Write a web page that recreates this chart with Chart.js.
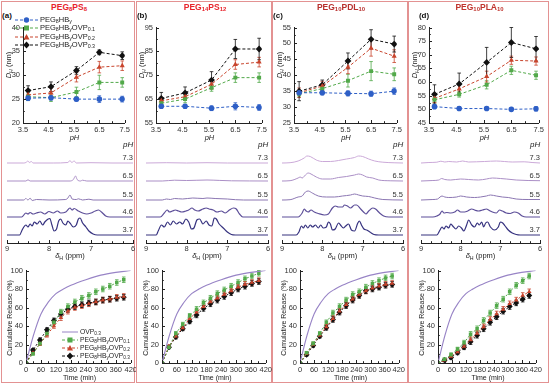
<!DOCTYPE html>
<html>
<head>
<meta charset="utf-8">
<script src="https://cdn.jsdelivr.net/npm/chart.js@4"></script>
<style>
body { margin: 0; background: #fff; }
#fig { position: relative; width: 550px; height: 384px; overflow: hidden; font-family: 'Liberation Sans', Arial, sans-serif; color: #222; }
.box { position: absolute; top: 1px; height: 382px; border: 1px solid #e39292; box-sizing: border-box; }
.t { position: absolute; white-space: nowrap; line-height: 1; transform: translate(-50%, -50%); }
.rot { transform: translate(-50%, -50%) rotate(-90deg); }
.leg { position: absolute; white-space: nowrap; line-height: 1; display: flex; align-items: center; transform: translateY(-50%); }
.leg svg { margin-right: 2px; }
.ph { position: absolute; white-space: nowrap; line-height: 1; font-size: 8px; font-style: italic; color: #222; z-index: 5; }
sub { font-size: 70%; vertical-align: -0.25em; line-height: 0; }
</style>
</head>
<body>
<div id="fig"></div>
<script>
// ---- data: hydrodynamic diameter vs pH ----
const pH = [3.7, 4.6, 5.6, 6.5, 7.4];

const dhA_hb  = [25.2, 25.3, 25.0, 25.0, 25.0];
const dhA_o1  = [25.5, 25.3, 26.5, 28.5, 28.5];
const dhA_o2  = [25.9, 26.3, 29.6, 31.7, 32.0];
const dhA_o3  = [26.8, 27.6, 31.0, 34.8, 34.1];
const errA_hb = [0.5, 0.5, 0.4, 0.7, 0.6];
const errA_o1 = [0.8, 0.8, 1.0, 1.5, 1.0];
const errA_o2 = [0.8, 1.0, 1.0, 1.2, 1.0];
const errA_o3 = [1.0, 1.0, 0.8, 0.5, 0.8];

const dhB_hb  = [62.0, 62.0, 61.2, 62.0, 61.5];
const dhB_o1  = [63.3, 65.0, 69.8, 74.0, 74.0];
const dhB_o2  = [64.3, 66.0, 71.2, 79.5, 80.5];
const dhB_o3  = [65.3, 67.6, 73.0, 86.0, 86.0];
const errB_hb = [0.8, 0.8, 1.0, 1.5, 1.2];
const errB_o1 = [1.0, 1.5, 1.5, 2.0, 2.0];
const errB_o2 = [1.5, 1.5, 2.0, 2.0, 2.0];
const errB_o3 = [2.5, 2.5, 3.5, 4.0, 4.5];

const dhC_hb  = [34.5, 34.5, 34.3, 34.2, 35.0];
const dhC_o1  = [34.2, 35.8, 38.3, 41.3, 40.3];
const dhC_o2  = [34.5, 36.6, 42.5, 48.5, 46.0];
const dhC_o3  = [35.0, 37.0, 44.5, 51.3, 49.8];
const errC_hb = [0.7, 0.7, 0.8, 0.8, 1.0];
const errC_o1 = [1.0, 1.0, 2.0, 3.0, 2.0];
const errC_o2 = [1.5, 1.5, 2.0, 2.5, 2.0];
const errC_o3 = [3.0, 1.5, 2.5, 3.0, 2.5];

const dhD_hb  = [51.0, 50.3, 50.3, 50.0, 50.2];
const dhD_o1  = [53.5, 55.5, 59.0, 64.3, 62.5];
const dhD_o2  = [54.0, 57.5, 62.0, 68.0, 67.7];
const dhD_o3  = [55.5, 59.3, 67.2, 74.5, 72.2];
const errD_hb = [0.7, 0.7, 0.6, 0.7, 0.8];
const errD_o1 = [1.0, 1.0, 1.5, 1.5, 1.5];
const errD_o2 = [1.5, 1.5, 2.0, 1.5, 1.5];
const errD_o3 = [3.5, 4.0, 5.5, 5.5, 4.5];

const dhRange = [[20, 40, 5], [55, 95, 10], [25, 55, 5], [45, 80, 5]];

// ---- data: 1H NMR spectra, [ppm, intensity] ----
const nmrPh = ['7.3', '6.5', '5.5', '4.6', '3.7'];

const nmrA73 = [[9,0],[8.6,0],[8.55,0.5],[8.5,2],[8.47,0.5],[8.42,1.5],[8.38,0],[7.9,0],[7.55,0.5],[7.5,2.5],[7.46,0.5],[7.4,2],[7.35,0],[7.0,0.3],[6.5,0],[6,0]];
const nmrA65 = [[9,0],[8.55,0],[8.5,1.2],[8.45,0],[7.5,0],[7.42,1.5],[7.37,5],[7.33,1.5],[7.25,0],[7.2,0.8],[7.1,0],[6,0]];
const nmrA55 = [[9,0],[8.6,0],[8.55,1.5],[8.5,0],[8.45,1.8],[8.4,-0.5],[8.3,0.5],[8.0,0],[7.6,0.5],[7.55,2],[7.5,5],[7.45,1],[7.35,0.5],[7.3,1.2],[7.2,0],[7.05,0.8],[6.95,0],[6,0]];
const nmrA46 = [[9,0],[8.65,0],[8.55,4],[8.5,3],[8.45,4.5],[8.38,3],[8.3,4],[8.2,5],[8.1,3],[8.0,5.5],[7.9,4],[7.8,6],[7.72,4],[7.6,5],[7.5,9],[7.45,7],[7.4,8.5],[7.3,6],[7.2,4],[7.1,3],[7.0,4],[6.9,6],[6.82,7],[6.75,5],[6.65,1],[6.55,0],[6,0]];
const nmrA37 = [[9,0],[8.7,0],[8.65,4],[8.6,8],[8.55,10],[8.5,8],[8.45,11],[8.4,9],[8.35,13],[8.28,11],[8.22,14],[8.15,10],[8.1,13],[8.02,16],[7.98,16.5],[7.93,10],[7.88,4],[7.82,6],[7.77,14],[7.72,16],[7.67,12],[7.6,10],[7.55,14],[7.5,12],[7.42,8],[7.35,10],[7.3,16],[7.26,17],[7.2,12],[7.12,8],[7.05,4],[6.95,1],[6.85,0],[6,0]];

const nmrB73 = [[9,0],[8.5,0.3],[8,0],[7.5,0.3],[7,0],[6,0]];
const nmrB65 = [[9,0],[8.6,0],[8.3,0.8],[8,0.5],[7.5,1],[7.2,0.6],[6.9,0.2],[6,0]];
const nmrB55 = [[9,0],[8.6,0],[8.5,1],[8.4,0.5],[8.3,1.5],[8.1,1],[7.85,2],[7.6,1.5],[7.5,2],[7.3,1.5],[7.0,1],[6.8,0.3],[6.6,0],[6,0]];
const nmrB46 = [[9,0],[8.65,0],[8.55,4],[8.48,7],[8.42,5],[8.35,6],[8.28,7],[8.2,6],[8.12,5],[8.02,6],[7.95,7],[7.87,9],[7.8,7],[7.72,6],[7.6,8],[7.52,9],[7.45,8],[7.35,7],[7.25,5],[7.15,6],[7.05,4],[6.95,7],[6.85,9],[6.78,8],[6.7,3],[6.62,0],[6,0]];
const nmrB37 = [[9,0],[8.75,0],[8.7,4],[8.62,10],[8.55,8],[8.47,13],[8.4,10],[8.33,14],[8.25,11],[8.17,13],[8.1,11],[8.02,16],[7.95,13],[7.88,6],[7.82,7],[7.75,15],[7.68,16],[7.6,11],[7.52,14],[7.45,10],[7.38,9],[7.32,17],[7.27,16],[7.2,11],[7.1,7],[7.0,3],[6.9,0.5],[6.8,0],[6,0]];

const nmrC73 = [[9,0],[8.8,0.3],[8.6,2],[8.45,5],[8.38,7],[8.3,6.5],[8.15,3],[8.0,1.5],[7.8,1.5],[7.6,2.5],[7.4,4],[7.2,5.5],[7.1,7],[7.0,6.5],[6.85,4],[6.7,2],[6.5,0.8],[6.2,0.2],[6,0]];
const nmrC65 = [[9,0],[8.8,0.3],[8.6,3],[8.55,4],[8.5,3],[8.42,6],[8.35,8],[8.28,7],[8.15,4],[8.0,2],[7.8,2],[7.6,3.5],[7.4,4.5],[7.2,6],[7.1,7],[7.0,6],[6.9,4],[6.75,3],[6.6,1],[6.3,0.2],[6,0]];
const nmrC55 = [[9,0],[8.8,0.3],[8.6,3],[8.5,4],[8.42,8],[8.35,9],[8.25,7],[8.1,4],[7.9,3],[7.7,3],[7.5,4],[7.3,5],[7.2,6],[7.1,5],[7.0,4],[6.85,3.5],[6.7,2],[6.5,0.5],[6,0]];
const nmrC46 = [[9,0],[8.6,0],[8.5,4],[8.45,8],[8.4,6],[8.35,5],[8.28,7],[8.2,5],[8.1,3.5],[7.95,2],[7.85,3],[7.75,9],[7.68,11],[7.6,10],[7.5,10],[7.45,12],[7.38,11],[7.3,9],[7.2,12],[7.15,12],[7.05,8],[6.98,5],[6.92,3],[6.85,6],[6.75,9],[6.68,8],[6.58,4],[6.48,1],[6.35,0],[6,0]];
const nmrC37 = [[9,0],[8.65,0],[8.58,3],[8.52,9],[8.47,7],[8.42,10],[8.36,7],[8.3,10],[8.24,8],[8.17,10],[8.1,7],[8.04,10],[7.98,7],[7.9,8],[7.85,13],[7.8,11],[7.75,5],[7.68,6],[7.6,12],[7.55,10],[7.48,7],[7.42,9],[7.35,11],[7.28,5],[7.2,4],[7.12,12],[7.08,14],[7.03,10],[6.97,6],[6.9,5],[6.82,3],[6.72,0.5],[6.6,0],[6,0]];

const nmrD73 = [[9,0],[8.8,0.5],[8.6,0.8],[8.5,1.8],[8.4,1],[8.3,1.5],[8.1,1],[7.95,2],[7.8,1],[7.6,1.2],[7.4,1.5],[7.1,2],[6.9,1.5],[6.7,1],[6.4,1.2],[6.2,0.5],[6,0]];
const nmrD65 = [[9,0],[8.7,0.5],[8.55,1],[8.48,2.5],[8.4,1.5],[8.25,1],[8.0,2],[7.8,1.5],[7.55,1],[7.35,2],[7.2,3],[7.0,2.5],[6.85,2],[6.6,1],[6.3,0.5],[6,0.3]];
const nmrD55 = [[9,0],[8.7,0.5],[8.58,1],[8.52,3],[8.47,4],[8.4,3],[8.3,2.5],[8.1,3],[8.0,4],[7.85,3],[7.65,2.5],[7.5,3],[7.35,4],[7.25,5],[7.1,4],[6.95,3],[6.8,2.5],[6.6,1],[6.3,0.5],[6,0.5]];
const nmrD46 = [[9,0],[8.7,0],[8.6,1],[8.52,3],[8.47,6],[8.42,4],[8.35,4.5],[8.25,4],[8.15,5],[8.08,7],[8.0,5],[7.9,5],[7.82,6],[7.72,8],[7.65,7],[7.55,6],[7.45,7],[7.35,8],[7.3,7],[7.2,5],[7.1,4],[7.02,7],[6.95,6],[6.85,4],[6.75,3.5],[6.65,5],[6.55,4],[6.45,1],[6.35,0],[6,0]];
const nmrD37 = [[9,0],[8.6,0],[8.52,5],[8.47,8],[8.42,6],[8.37,9],[8.3,7],[8.25,11],[8.2,9],[8.12,6],[8.05,9],[7.98,7],[7.92,4],[7.85,10],[7.8,15],[7.72,10],[7.65,8],[7.58,12],[7.53,10],[7.47,13],[7.42,8],[7.37,12],[7.32,13],[7.25,8],[7.15,5],[7.05,8],[7.0,13],[6.94,12],[6.88,9],[6.8,5],[6.7,2],[6.6,0.5],[6.5,0],[6,0]];

// ---- data: cumulative release vs time ----
const relTime = [0, 28, 56, 84, 112, 140, 168, 196, 224, 252, 280, 308, 336, 364, 392];
const ovpTime = [0, 30, 60, 90, 120, 150, 180, 240, 300, 360, 420];
const ovpRel  = [0, 30, 53, 66, 75, 80, 84, 90, 95, 98, 100];
const relErr  = [0, 1.5, 2, 2, 2.5, 3, 3, 3, 3, 3, 3, 3, 3, 3, 3];

const relA_o1 = [0, 10, 21, 32, 44, 55, 61, 66, 70, 73, 77, 80, 83, 87, 90];
const relA_o2 = [0, 11, 21, 30, 40, 49, 56, 60, 62, 64, 66, 68, 69, 71, 72];
const relA_o3 = [0, 14, 25, 36, 46, 53, 58, 61, 63, 65, 66, 68, 69, 70, 71];
const relB_o1 = [0, 17, 32, 42, 51, 58, 65, 70, 75, 79, 83, 87, 91, 94, 97];
const relB_o2 = [0, 18, 29, 38, 48, 55, 61, 66, 70, 74, 78, 82, 85, 87, 89];
const relB_o3 = [0, 17, 28, 37, 45, 52, 59, 64, 68, 72, 76, 80, 83, 86, 88];
const relC_o1 = [0, 11, 21, 32, 44, 54, 61, 68, 74, 77, 82, 86, 89, 92, 94];
const relC_o2 = [0, 10, 20, 30, 39, 48, 56, 63, 69, 74, 78, 81, 83, 85, 86];
const relC_o3 = [0, 9, 19, 29, 38, 47, 55, 62, 68, 73, 78, 80, 82, 84, 85];
const relD_o1 = [0, 4, 9, 15, 22, 31, 37, 46, 54, 62, 69, 77, 84, 89, 94];
const relD_o2 = [0, 3, 7, 12, 18, 25, 32, 39, 47, 53, 58, 64, 68, 73, 77];
const relD_o3 = [0, 3, 6, 11, 17, 23, 30, 37, 44, 50, 56, 61, 65, 69, 73];

// ---- layout / styles ----
const fig = document.getElementById('fig');
Chart.defaults.font.family = "'Liberation Sans', Arial, sans-serif";
Chart.defaults.color = '#333';

const BLUE = '#2e5fc6', GREEN = '#52a94a', RED = '#c8442c', BLACK = '#111', PURPLE = '#9884c6';
const nmrColors = ['#cba9d8', '#ab8fc6', '#8b76b2', '#5d4f99', '#36327f'];
const nmrBase = [80, 62, 43, 26, 8];

const titles = ['PEG<sub>8</sub>PS<sub>8</sub>', 'PEG<sub>14</sub>PS<sub>12</sub>', 'PEG<sub>10</sub>PDL<sub>10</sub>', 'PEG<sub>10</sub>PLA<sub>10</sub>'];
const titleColors = ['#e8242c', '#e8242c', '#b8302e', '#c0342e'];
const boxes = [[1, 135], [136, 272], [272, 408], [408, 549]];
const topArea = [[23, 126], [156, 263], [294, 398], [429, 540]];
const nmrArea = [[7, 133], [146, 268], [282, 403], [421, 540]];
const relArea = [[26, 133], [162, 268], [300, 401], [438, 538]];

function text(html, x, y, css, cls) {
  const d = document.createElement('div');
  d.className = 't' + (cls ? ' ' + cls : '');
  d.innerHTML = html;
  d.style.left = x + 'px'; d.style.top = y + 'px';
  if (css) d.style.cssText += css;
  fig.appendChild(d);
}

function isMajor(v, base, major) {
  const q = (v - base) / major;
  return Math.abs(q - Math.round(q)) < 1e-6;
}

function axis(min, max, step, major, base, fitProp, fitVal, pad, extra) {
  return Object.assign({
    type: 'linear', min, max,
    ticks: {
      stepSize: step, autoSkip: false, maxRotation: 0, minRotation: 0, padding: pad,
      font: { size: 7.5 }, color: '#333',
      callback: v => isMajor(v, base, major) ? String(Math.round(v * 10) / 10) : ''
    },
    grid: { display: true, drawOnChartArea: false, drawTicks: false },
    border: { display: true, color: '#222', width: 1 },
    afterFit: s => { s[fitProp] = fitVal; }
  }, extra || {});
}

// tick marks drawn inward, majors longer than minors
const innerTicks = {
  id: 'innerTicks',
  afterDraw(chart) {
    const ctx = chart.ctx, a = chart.chartArea;
    ctx.save();
    ctx.strokeStyle = '#222'; ctx.lineWidth = 1;
    ['x', 'y'].forEach(id => {
      const s = chart.scales[id];
      if (!s || !s.options.display) return;
      s.ticks.forEach(t => {
        const len = t.label !== '' ? 3 : 1.8;
        const p = Math.round(s.getPixelForValue(t.value)) + 0.5;
        ctx.beginPath();
        if (id === 'x') { ctx.moveTo(p, a.bottom); ctx.lineTo(p, a.bottom - len); }
        else { ctx.moveTo(a.left, p); ctx.lineTo(a.left + len, p); }
        ctx.stroke();
      });
    });
    ctx.restore();
  }
};

const errorBars = {
  id: 'errorBars',
  beforeDatasetsDraw(chart) {
    const ctx = chart.ctx, ys = chart.scales.y;
    chart.data.datasets.forEach((ds, i) => {
      if (!ds.errors) return;
      const meta = chart.getDatasetMeta(i);
      ctx.save();
      ctx.strokeStyle = ds.borderColor; ctx.lineWidth = 0.8; ctx.setLineDash([]);
      meta.data.forEach((pt, j) => {
        const e = ds.errors[j];
        if (!e) return;
        const v = ds.data[j].y;
        const y1 = ys.getPixelForValue(v + e), y2 = ys.getPixelForValue(v - e);
        ctx.beginPath();
        ctx.moveTo(pt.x, y1); ctx.lineTo(pt.x, y2);
        ctx.moveTo(pt.x - 1.8, y1); ctx.lineTo(pt.x + 1.8, y1);
        ctx.moveTo(pt.x - 1.8, y2); ctx.lineTo(pt.x + 1.8, y2);
        ctx.stroke();
      });
      ctx.restore();
    });
  }
};

// pH value written above the right end of each stacked trace
function nmrLabels(labels, bases) {
  return {
    id: 'nmrLabels',
    afterDraw(chart) {
      const ctx = chart.ctx, ys = chart.scales.y, a = chart.chartArea;
      ctx.save();
      ctx.fillStyle = '#333'; ctx.textAlign = 'right'; ctx.textBaseline = 'middle';
      ctx.font = "7.5px 'Liberation Sans', Arial";
      labels.forEach((l, i) => ctx.fillText(l, a.right, ys.getPixelForValue(bases[i]) - 5.5));
      ctx.restore();
    }
  };
}

function makeChart(area, yTop, yBot, yw, xh, pad, config) {
  const L = area[0] - yw - pad[3], T = yTop - pad[0];
  const W = area[1] + pad[1] - L, H = yBot + xh + pad[2] - T;
  const cv = document.createElement('canvas');
  cv.width = W; cv.height = H;
  cv.style.cssText = `position:absolute;left:${L}px;top:${T}px;width:${W}px;height:${H}px;`;
  fig.appendChild(cv);
  Object.assign(config.options, {
    responsive: false, animation: false, maintainAspectRatio: false,
    layout: { padding: { top: pad[0], right: pad[1], bottom: pad[2], left: pad[3] } }
  });
  config.options.plugins = Object.assign({ legend: { display: false }, tooltip: { enabled: false } }, config.options.plugins || {});
  return new Chart(cv, config);
}

function pts(xs, ys) { return xs.map((x, i) => ({ x, y: ys[i] })); }

function series(xs, ys, errs, color, style, r, dash) {
  return {
    data: pts(xs, ys), errors: errs, borderColor: color, backgroundColor: color,
    borderWidth: 1, borderDash: dash, pointStyle: style,
    pointRadius: style === 'rectRot' ? r + 0.6 : r, pointBorderWidth: 0, tension: 0
  };
}

const dhSets = [
  [dhA_hb, dhA_o1, dhA_o2, dhA_o3, errA_hb, errA_o1, errA_o2, errA_o3],
  [dhB_hb, dhB_o1, dhB_o2, dhB_o3, errB_hb, errB_o1, errB_o2, errB_o3],
  [dhC_hb, dhC_o1, dhC_o2, dhC_o3, errC_hb, errC_o1, errC_o2, errC_o3],
  [dhD_hb, dhD_o1, dhD_o2, dhD_o3, errD_hb, errD_o1, errD_o2, errD_o3]
];
const nmrSets = [
  [nmrA73, nmrA65, nmrA55, nmrA46, nmrA37],
  [nmrB73, nmrB65, nmrB55, nmrB46, nmrB37],
  [nmrC73, nmrC65, nmrC55, nmrC46, nmrC37],
  [nmrD73, nmrD65, nmrD55, nmrD46, nmrD37]
];
const relSets = [
  [relA_o1, relA_o2, relA_o3], [relB_o1, relB_o2, relB_o3],
  [relC_o1, relC_o2, relC_o3], [relD_o1, relD_o2, relD_o3]
];

for (let c = 0; c < 4; c++) {
  const b = document.createElement('div');
  b.className = 'box';
  b.style.left = boxes[c][0] + 'px'; b.style.width = (boxes[c][1] - boxes[c][0]) + 'px';
  fig.appendChild(b);

  // --- top: D_H vs pH ---
  const d = dhSets[c], rg = dhRange[c];
  makeChart(topArea[c], 25, 123, 20, 12, [5, 6, 0, 0], {
    type: 'line',
    data: { datasets: [
      series(pH, d[0], d[4], BLUE, 'circle', 2.8, [3, 2]),
      series(pH, d[1], d[5], GREEN, 'rect', 2.8, [3, 2]),
      series(pH, d[2], d[6], RED, 'triangle', 3, [3, 2]),
      series(pH, d[3], d[7], BLACK, 'rectRot', 2.8, [3, 2])
    ] },
    options: { scales: {
      x: axis(3.5, 7.5, 0.5, 1, 3.5, 'height', 12, 2),
      y: axis(rg[0], rg[1], rg[2] / 2, rg[2], rg[0], 'width', 20, 3)
    } },
    plugins: [errorBars, innerTicks]
  });

  // --- middle: NMR stack ---
  const ns = nmrSets[c];
  makeChart(nmrArea[c], 147, 243, 0, 11, [6, 4, 0, 4], {
    type: 'line',
    data: { datasets: ns.map((tr, i) => ({
      data: tr.map(p => ({ x: p[0], y: p[1] + nmrBase[i] })),
      borderColor: nmrColors[i], borderWidth: i > 2 ? 1.2 : 1, pointRadius: 0, cubicInterpolationMode: 'monotone'
    })) },
    options: { scales: {
      x: axis(6, 9, 0.25, 1, 6, 'height', 11, 1, { reverse: true }),
      y: { type: 'linear', min: 0, max: 96, display: false }
    } },
    plugins: [innerTicks, nmrLabels(nmrPh, nmrBase)]
  });

  // --- bottom: release ---
  const rs = relSets[c];
  makeChart(relArea[c], 268, 363, 20, 12, [5, 6, 0, 0], {
    type: 'line',
    data: { datasets: [
      { data: pts(ovpTime, ovpRel), borderColor: PURPLE, borderWidth: 1.1, pointRadius: 0, cubicInterpolationMode: 'monotone' },
      series(relTime, rs[0], relErr, GREEN, 'rect', 2.5, [2, 2]),
      series(relTime, rs[1], relErr, RED, 'triangle', 2.6, [2, 2]),
      series(relTime, rs[2], relErr, BLACK, 'rectRot', 2.4, [2, 2])
    ] },
    options: { scales: {
      x: axis(0, 420, 30, 60, 0, 'height', 12, 2),
      y: axis(0, 100, 10, 20, 0, 'width', 20, 3)
    } },
    plugins: [errorBars, innerTicks]
  });

  // --- texts ---
  const bx = boxes[c];
  text(titles[c], (bx[0] + bx[1]) / 2 + 1, 7, `font-weight:bold;font-size:8.5px;color:${titleColors[c]};`);
  text('(' + 'abcd'[c] + ')', (c === 3 ? 424 : bx[0] + 6), 16, 'font-weight:bold;font-size:8px;color:#111;');
  text('<i>D</i><sub><i>H</i></sub> (nm)', topArea[c][0] - 14, 65, 'font-size:7.5px;', 'rot');
  text('<i>pH</i>', (topArea[c][0] + topArea[c][1]) / 2, 138, 'font-size:7.5px;');
  text('<i>δ</i><sub>H</sub> (ppm)', (nmrArea[c][0] + nmrArea[c][1]) / 2, 256, 'font-size:7.5px;');
  text('Cumulative Release (%)', relArea[c][0] - 17, 318, 'font-size:7px;', 'rot');
  text('Time (min)', (relArea[c][0] + relArea[c][1]) / 2, 377, 'font-size:7px;');
}

// "pH" heading over each stack of spectra
nmrArea.forEach(a => {
  const ph = document.createElement('div');
  ph.className = 'ph';
  ph.textContent = 'pH';
  ph.style.left = (a[1] - 10) + 'px';
  ph.style.top = '141px';
  fig.appendChild(ph);
});

// ---- legends (panel a) ----
function marker(shape, color, w, dashed) {
  const c = w / 2;
  let m = '';
  if (shape === 'circle') m = `<circle cx="${c}" cy="4" r="2.7" fill="${color}"/>`;
  if (shape === 'rect') m = `<rect x="${c - 2.5}" y="1.5" width="5" height="5" fill="${color}"/>`;
  if (shape === 'triangle') m = `<polygon points="${c},0.9 ${c + 3},6.5 ${c - 3},6.5" fill="${color}"/>`;
  if (shape === 'rectRot') m = `<polygon points="${c},0.6 ${c + 3.2},4 ${c},7.4 ${c - 3.2},4" fill="${color}"/>`;
  const dash = dashed ? 'stroke-dasharray="3,2"' : '';
  return `<svg width="${w}" height="8" viewBox="0 0 ${w} 8"><line x1="0" y1="4" x2="${w}" y2="4" stroke="${color}" stroke-width="1" ${dash}/>${m}</svg>`;
}
function legend(items, x, ys, w, size) {
  items.forEach((it, i) => {
    const d = document.createElement('div');
    d.className = 'leg';
    d.style.left = x + 'px'; d.style.top = ys[i] + 'px'; d.style.fontSize = size + 'px';
    d.innerHTML = marker(it[1], it[2], w, it[3]) + '<span>' + it[0] + '</span>';
    fig.appendChild(d);
  });
}
const hb = 'PEG<sub>8</sub>HB<sub>y</sub>';
legend([
  [hb, 'circle', BLUE, true],
  [hb + 'OVP<sub>0.1</sub>', 'rect', GREEN, true],
  [hb + 'OVP<sub>0.2</sub>', 'triangle', RED, true],
  [hb + 'OVP<sub>0.3</sub>', 'rectRot', BLACK, true]
], 15, [19.5, 28, 36.5, 45], 23, 7.5);
legend([
  ['OVP<sub>0.3</sub>', 'none', PURPLE, false],
  [hb + 'OVP<sub>0.1</sub>', 'rect', GREEN, true],
  [hb + 'OVP<sub>0.2</sub>', 'triangle', RED, true],
  [hb + 'OVP<sub>0.3</sub>', 'rectRot', BLACK, true]
], 62, [332, 340, 348, 356], 16, 6.8);
</script>
</body>
</html>
